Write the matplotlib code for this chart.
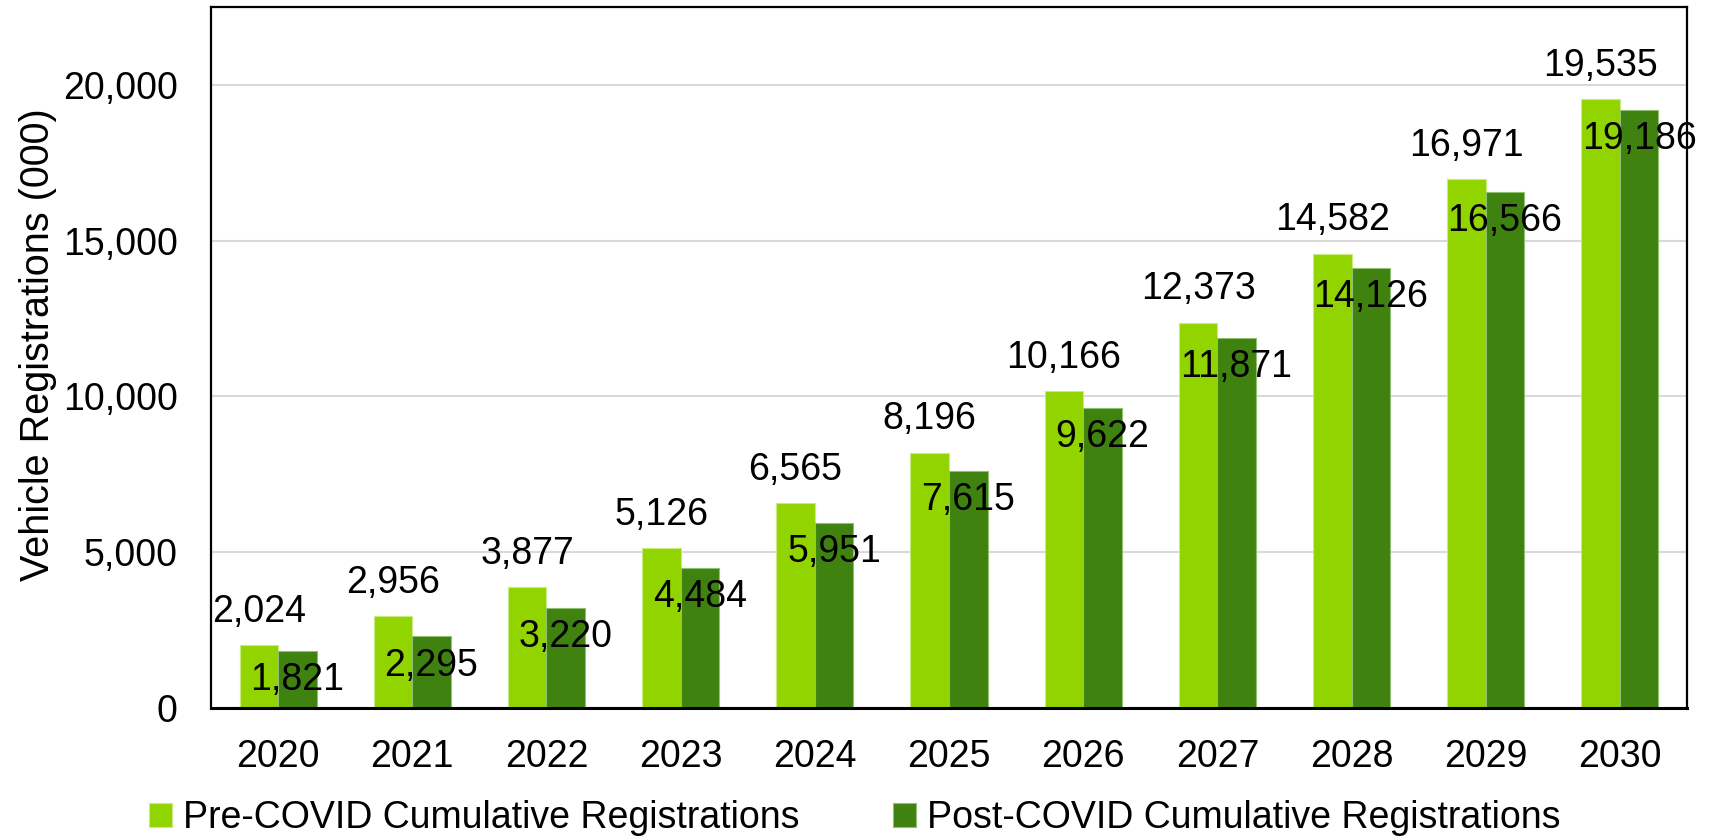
import matplotlib.pyplot as plt
import numpy as np

plt.rcParams['font.family'] = ['Liberation Sans', 'DejaVu Sans']

years = ['2020', '2021', '2022', '2023', '2024', '2025', '2026', '2027', '2028', '2029', '2030']
pre_covid = [2024, 2956, 3877, 5126, 6565, 8196, 10166, 12373, 14582, 16971, 19535]
post_covid = [1821, 2295, 3220, 4484, 5951, 7615, 9622, 11871, 14126, 16566, 19186]
series_names = ['Pre-COVID Cumulative Registrations', 'Post-COVID Cumulative Registrations']
yticks = [0, 5000, 10000, 15000, 20000]

pre_color = '#92d400'
post_color = '#3f8210'
fs = 27

fig = plt.figure(figsize=(17.18, 8.36), dpi=100)
fig.subplots_adjust(left=211 / 1718, right=1687 / 1718, top=1 - 7 / 836, bottom=1 - 708 / 836)
ax = fig.add_subplot(111)

x = np.arange(len(years))
w = 0.287
b1 = ax.bar(x - w / 2, pre_covid, w, color=pre_color, edgecolor='#c8ec80', linewidth=0.8,
            label=series_names[0], zorder=2)
b2 = ax.bar(x + w / 2, post_covid, w, color=post_color, edgecolor='#8fbf70', linewidth=0.8,
            label=series_names[1], zorder=2)

# data labels: pre above the bar, post just inside the top
for xi, v in zip(x, pre_covid):
    ax.annotate('{:,}'.format(v), (xi - w / 2, v), xytext=(0, 24), textcoords='offset points',
                ha='center', va='center', fontsize=fs, zorder=4)
for xi, v in zip(x, post_covid):
    ax.annotate('{:,}'.format(v), (xi + w / 2, v), xytext=(0, -21), textcoords='offset points',
                ha='center', va='center', fontsize=fs, zorder=4, annotation_clip=False)

ax.set_xlim(-0.5, len(years) - 0.5)
ax.set_ylim(0, 22500)
ax.set_xticks(x)
ax.set_xticklabels(years)
ax.set_yticks(yticks)
ax.set_yticklabels(['{:,}'.format(t) for t in yticks])
ax.tick_params(axis='both', length=0, labelsize=fs)
ax.tick_params(axis='y', pad=24)
ax.tick_params(axis='x', pad=22)
ax.yaxis.grid(True, color='#d9d9d9', linewidth=1.5, zorder=0)
ax.set_axisbelow(True)
for s in ax.spines.values():
    s.set_linewidth(1.6)
    s.set_color('black')
ax.spines['bottom'].set_linewidth(2.2)

ax.set_ylabel('Vehicle Registrations (000)', fontsize=28.5)
ax.yaxis.set_label_coords(-0.104, 0.518)

fig.legend(handles=[b1, b2], loc='center', bbox_to_anchor=(855 / 1718, 1 - 818 / 836), ncol=2,
           frameon=False, fontsize=fs, handlelength=0.6, handleheight=0.6, handletextpad=0.3,
           columnspacing=2.5, borderpad=0, borderaxespad=0)

fig.savefig('out.png', dpi=100)
